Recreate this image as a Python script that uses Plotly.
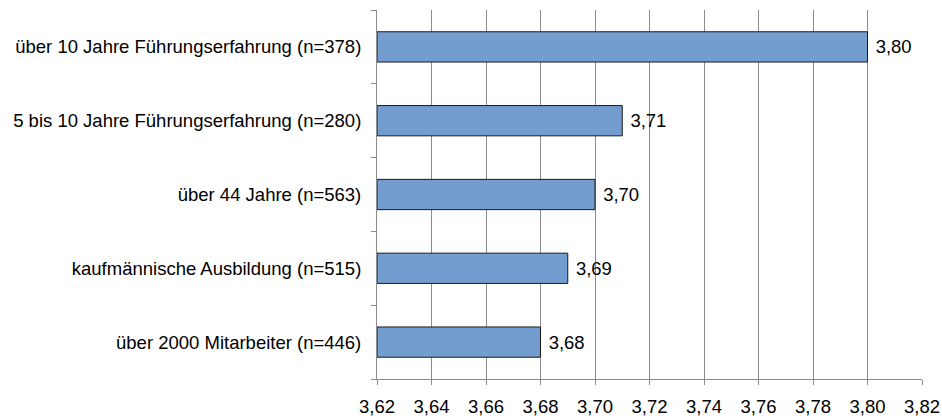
import plotly.graph_objects as go

# Mean scores per group (top to bottom)
categories = [
    "über 10 Jahre Führungserfahrung (n=378)",
    "5 bis 10 Jahre Führungserfahrung (n=280)",
    "über 44 Jahre (n=563)",
    "kaufmännische Ausbildung (n=515)",
    "über 2000 Mitarbeiter (n=446)",
]
values = [3.80, 3.71, 3.70, 3.69, 3.68]
x_ticks = [3.62, 3.64, 3.66, 3.68, 3.70, 3.72, 3.74, 3.76, 3.78, 3.80, 3.82]
x_start = x_ticks[0]

FONT = "Liberation Sans, Arial, sans-serif"
GRID = "#8c8c8c"

fig = go.Figure(
    go.Bar(
        x=[v - x_start for v in values],
        y=categories,
        orientation="h",
        base=x_start,
        width=0.41,
        marker=dict(color="#739ccf", line=dict(color="#1a1a1a", width=1)),
        text=[f"{v:.2f}".replace(".", ",") for v in values],
        texttemplate=" %{text}",
        textposition="outside",
        textfont=dict(family=FONT, size=18.5, color="#000000"),
        cliponaxis=False,
        hoverinfo="skip",
    )
)

fig.update_layout(
    width=942,
    height=419,
    margin=dict(l=377, r=20, t=10, b=40),
    paper_bgcolor="white",
    plot_bgcolor="white",
    separators=",.",
    showlegend=False,
    font=dict(family=FONT, size=18.5, color="#000000"),
)
fig.update_xaxes(
    range=[x_ticks[0], x_ticks[-1]],
    tickvals=x_ticks,
    tickformat=".2f",
    automargin=False,
    showgrid=True,
    gridcolor=GRID,
    gridwidth=1,
    showline=True,
    linecolor=GRID,
    linewidth=1,
    ticks="outside",
    ticklen=5,
    tickcolor=GRID,
    ticklabelstandoff=6,
    zeroline=False,
    tickfont=dict(family=FONT, size=18.5, color="#000000"),
)
fig.update_yaxes(
    categoryorder="array",
    categoryarray=categories[::-1],
    automargin=False,
    showgrid=False,
    showline=True,
    linecolor=GRID,
    linewidth=1,
    ticks="outside",
    tickson="boundaries",
    ticklen=5,
    tickcolor=GRID,
    ticklabelstandoff=11,
    tickfont=dict(family=FONT, size=18.5, color="#000000"),
)

fig.write_html("out.html")
